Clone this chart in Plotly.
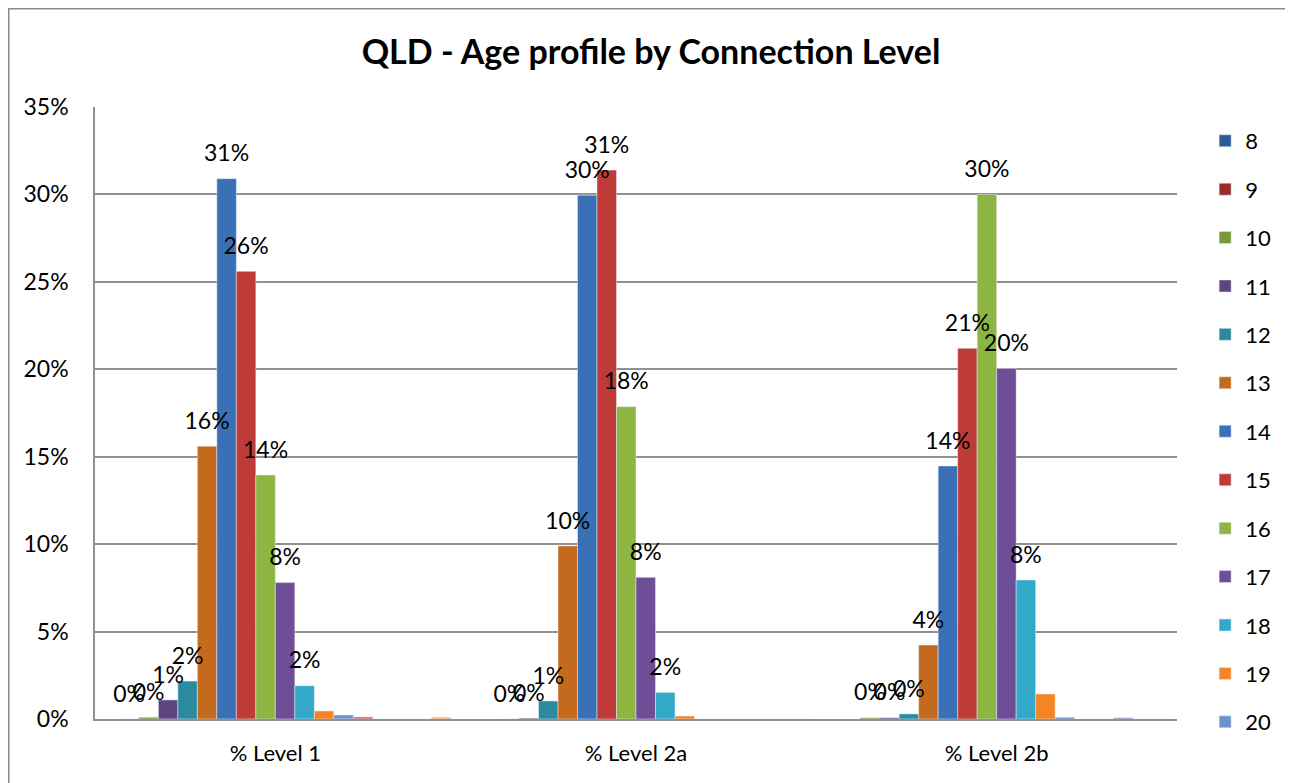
import plotly.graph_objects as go

# Categories and series (age groups), values in percent
categories = ["% Level 1", "% Level 2a", "% Level 2b"]
ages = [str(a) for a in range(8, 26)]

v8 = [None, None, None]
v9 = [0.0, None, None]
v10 = [0.1, 0.0, 0.07]
v11 = [1.09, 0.05, 0.07]
v12 = [2.17, 1.03, 0.29]
v13 = [15.6, 9.9, 4.23]
v14 = [30.9, 29.96, 14.47]
v15 = [25.6, 31.39, 21.2]
v16 = [13.95, 17.86, 30.0]
v17 = [7.8, 8.1, 20.05]
v18 = [1.9, 1.52, 7.95]
v19 = [0.46, 0.17, 1.43]
v20 = [0.23, 0.0, 0.1]
v21 = [0.12, 0.0, 0.0]
v22 = [0.0, 0.0, 0.0]
v23 = [0.0, 0.0, 0.07]
v24 = [0.0, 0.0, 0.0]
v25 = [0.1, 0.0, 0.0]

values = [v8, v9, v10, v11, v12, v13, v14, v15, v16, v17, v18,
          v19, v20, v21, v22, v23, v24, v25]

colors = ["#2C5B98", "#9A2D2A", "#779A3A", "#5E4580", "#2B89A0", "#C46A1E",
          "#3A70B5", "#BE3B37", "#8DB541", "#6E4F97", "#33A9C9", "#F58426",
          "#6E93CB", "#CD7371", "#B3CB81", "#9C87B5", "#79C1D6", "#F9A96A"]

labelled = [str(a) for a in range(9, 19)]
in_legend = [str(a) for a in range(8, 21)]
font = "Lato, 'Open Sans', sans-serif"

fig = go.Figure()
for age, vals, col in zip(ages, values, colors):
    fig.add_trace(go.Bar(
        x=categories, y=vals, name=age, marker_color=col,
        showlegend=age in in_legend, legendgroup=age,
        legend="legend" if int(age) <= 14 else "legend2",
    ))
# data labels, grouped the same way as the bars
for age, vals in zip(ages, values):
    txt = [(f"{v:.0f}%" if (v is not None and age in labelled) else None) for v in vals]
    fig.add_trace(go.Scatter(
        x=categories, y=vals, text=txt, mode="markers+text",
        textposition="top center", marker=dict(size=17, opacity=0),
        textfont=dict(size=23, color="black", family=font),
        showlegend=False, hoverinfo="skip", cliponaxis=False,
    ))

# page body adds an 8px offset, so the figure is 8px smaller
W, H = 1285, 775
L, T, PW, PH = 87, 99, 1082, 612
fig.update_layout(
    width=W, height=H,
    margin=dict(l=L, r=W - L - PW, t=T, b=H - T - PH),
    paper_bgcolor="white", plot_bgcolor="white",
    barmode="group", bargap=0.027, bargroupgap=0,
    scattermode="group", scattergap=0.027,
    font=dict(family=font, size=22, color="black"),
    title=dict(text="<b>QLD - Age profile by Connection Level</b>",
               x=643 / W, xref="container", xanchor="center",
               y=1 - 44 / H, yref="container", yanchor="middle",
               font=dict(size=34, family=font, color="black")),
    legend=dict(x=1.026, xanchor="left", y=0.9788, yanchor="top",
                tracegroupgap=16.8, font=dict(size=22), bgcolor="rgba(0,0,0,0)"),
    legend2=dict(x=1.026, xanchor="left", y=0.4248, yanchor="top",
                 tracegroupgap=16.8, font=dict(size=22), bgcolor="rgba(0,0,0,0)"),
    shapes=[dict(type="rect", xref="paper", yref="paper",
                 x0=(0.75 - L) / PW, x1=1.3, y0=-0.3, y1=(T - 0.75) / PH + 1,
                 line=dict(color="#8A8A8A", width=1.5))],
)
fig.update_yaxes(range=[0, 35], dtick=5, ticksuffix="%",
                 showgrid=True, gridcolor="#909090", gridwidth=1.5,
                 showline=True, linecolor="#909090", linewidth=1.5,
                 ticks="", ticklabelstandoff=20, tickfont=dict(size=23),
                 zeroline=False)
fig.update_xaxes(showline=True, linecolor="#909090", linewidth=1.5,
                 ticks="", ticklabelstandoff=14, tickfont=dict(size=22))

fig.write_html("out.html")
